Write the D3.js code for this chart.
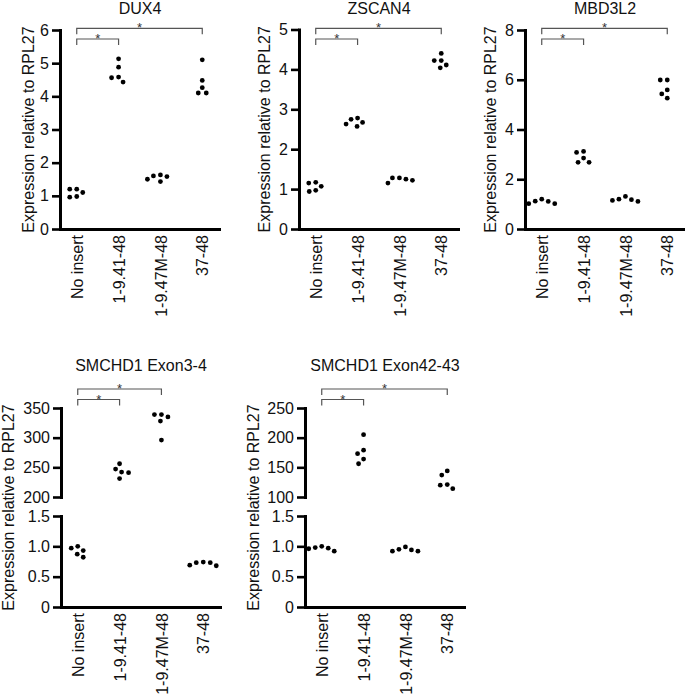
<!DOCTYPE html>
<html>
<head>
<meta charset="utf-8">
<script src="https://cdn.jsdelivr.net/npm/d3@7"></script>
<style>
  html, body { margin: 0; padding: 0; background: #fff; }
  svg { display: block; font-family: "Liberation Sans", Arial, sans-serif; }
</style>
</head>
<body>
<svg id="chart" width="685" height="697"></svg>
<script>
// ---------------- DATA ----------------
const categories = ["No insert", "1-9.41-48", "1-9.47M-48", "37-48"];

const dux4Values = [
  [1.2, 1.2, 1.1, 0.98, 0.96],
  [5.13, 4.88, 4.58, 4.56, 4.43],
  [1.63, 1.6, 1.58, 1.5, 1.43],
  [5.1, 4.48, 4.26, 4.1, 4.1]
];
const zscan4Values = [
  [1.17, 1.15, 1.07, 0.97, 0.94],
  [2.78, 2.75, 2.67, 2.63, 2.57],
  [1.28, 1.28, 1.25, 1.22, 1.15],
  [4.4, 4.22, 4.22, 4.11, 4.04]
];
const mbd3l2Values = [
  [1.2, 1.12, 1.11, 1.02, 1.02],
  [3.12, 3.08, 2.85, 2.68, 2.68],
  [1.31, 1.2, 1.18, 1.15, 1.11],
  [5.99, 5.99, 5.59, 5.43, 5.26]
];
const smchd1Ex34Values = [
  [1.0, 0.97, 0.93, 0.87, 0.82],
  [256, 247, 242, 241, 231],
  [339, 339, 335, 328, 296],
  [0.74, 0.73, 0.73, 0.69, 0.68]
];
const smchd1Ex4243Values = [
  [1.0, 0.98, 0.97, 0.96, 0.92],
  [205, 179, 173, 164, 156],
  [0.99, 0.95, 0.94, 0.92, 0.92],
  [144, 137, 121, 120, 114]
];

const dux4Ticks = [0, 1, 2, 3, 4, 5, 6];
const zscan4Ticks = [0, 1, 2, 3, 4, 5];
const mbd3l2Ticks = [0, 2, 4, 6, 8];
const lowerBreakTicks = [0, 0.5, 1.0, 1.5];
const lowerBreakTickLabels = ["0", "0.5", "1.0", "1.5"];
const ex34UpperTicks = [200, 250, 300, 350];
const ex4243UpperTicks = [100, 150, 200, 250];

const titles = ["DUX4", "ZSCAN4", "MBD3L2", "SMCHD1 Exon3-4", "SMCHD1 Exon42-43"];
const yAxisTitle = "Expression relative to RPL27";
const starLabel = "*";
// comparisons (index pairs into categories)
const compTop = [[0, 3], [0, 1]];
const compEx34 = [[0, 2], [0, 1]];
const compEx4243 = [[0, 3], [0, 1]];

// ---------------- DRAWING ----------------
const svg = d3.select("#chart");
const FONT = 16;
const AXW = 3;
const R = 2.4;

function swarm(vals, yfn, cx) {
  const placed = [];
  const order = vals.map((v, i) => ({ v, y: yfn(v) })).sort((a, b) => a.y - b.y);
  const minD = 2 * R + 1.8;
  order.forEach(p => {
    let off = 0;
    for (let k = 0; k < 200; k++) {
      const cand = (k % 2 === 0 ? 1 : -1) * Math.ceil(k / 2) * 0.5;
      const ok = placed.every(q => Math.hypot(q.x - (cx + cand), q.y - p.y) >= minD);
      if (ok) { off = cand; break; }
    }
    placed.push({ x: cx + off, y: p.y });
  });
  return placed;
}

function drawPanel(cfg) {
  const g = svg.append("g");
  const x = d3.scalePoint().domain(categories).range([cfg.x0, cfg.x0 + 159]).padding(0.4);
  const segs = cfg.segments;
  const scales = segs.map(s => d3.scaleLinear().domain(s.domain).range(s.range));
  const yOf = v => {
    for (let i = segs.length - 1; i >= 0; i--) {
      if (v >= segs[i].domain[0] || i === 0) return scales[i](v);
    }
  };
  const xAxisY = segs[0].range[0];

  segs.forEach((s, i) => {
    const ax = d3.axisLeft(scales[i]).tickValues(s.ticks).tickSize(8).tickSizeOuter(0).tickPadding(3)
      .tickFormat((d, j) => s.labels ? s.labels[j] : d3.format("")(d));
    const a = g.append("g").attr("transform", `translate(${cfg.x0},0)`).call(ax);
    a.select(".domain").attr("stroke", "#000").attr("stroke-width", AXW).attr("stroke-linecap", "square");
    a.selectAll(".tick line").attr("stroke", "#000").attr("stroke-width", 2.6);
    a.selectAll(".tick text").attr("font-size", FONT).attr("fill", "#111")
      .attr("font-family", '"Liberation Sans", Arial, sans-serif');
  });

  const xa = g.append("g").attr("transform", `translate(0,${xAxisY})`)
    .call(d3.axisBottom(x).tickSize(0).tickSizeOuter(0));
  xa.select(".domain").attr("stroke", "#000").attr("stroke-width", AXW).attr("stroke-linecap", "square");
  xa.selectAll(".tick text")
    .attr("font-size", FONT).attr("fill", "#111")
    .attr("font-family", '"Liberation Sans", Arial, sans-serif')
    .attr("transform", "rotate(-90)")
    .attr("text-anchor", "end")
    .attr("x", -6).attr("y", 0).attr("dy", "0.35em");

  g.append("text").attr("x", cfg.x0 + 80).attr("y", cfg.titleY).attr("text-anchor", "middle")
    .attr("font-size", FONT).attr("fill", "#111").text(cfg.title);

  const yTop = segs[segs.length - 1].range[1];
  const yMid = (yTop + xAxisY) / 2;
  g.append("text").attr("transform", `translate(${cfg.labelX},${yMid}) rotate(-90)`)
    .attr("text-anchor", "middle").attr("font-size", FONT).attr("fill", "#111").text(yAxisTitle);

  cfg.values.forEach((vals, ci) => {
    const pts = swarm(vals, yOf, x(categories[ci]));
    g.selectAll(null).data(pts).enter().append("circle")
      .attr("cx", d => d.x).attr("cy", d => d.y).attr("r", R).attr("fill", "#000");
  });

  cfg.comps.forEach((c, k) => {
    const by = cfg.bracketY[k];
    const x1 = x(categories[c[0]]), x2 = x(categories[c[1]]);
    g.append("path")
      .attr("d", `M${x1},${by + 6}V${by}H${x2}V${by + 6}`)
      .attr("fill", "none").attr("stroke", "#555").attr("stroke-width", 1.2);
    g.append("text").attr("x", (x1 + x2) / 2).attr("y", by + 4)
      .attr("text-anchor", "middle").attr("font-size", 13).attr("fill", "#333").text(starLabel);
  });
}

drawPanel({
  title: titles[0], x0: 60, titleY: 14, labelX: 33.5, values: dux4Values, comps: compTop,
  bracketY: [28.3, 39],
  segments: [{ domain: [0, 6], range: [229, 30], ticks: dux4Ticks }]
});
drawPanel({
  title: titles[1], x0: 299, titleY: 14, labelX: 269.5, values: zscan4Values, comps: compTop,
  bracketY: [28.3, 39],
  segments: [{ domain: [0, 5], range: [229, 29.5], ticks: zscan4Ticks }]
});
drawPanel({
  title: titles[2], x0: 525, titleY: 14, labelX: 496, values: mbd3l2Values, comps: compTop,
  bracketY: [28.3, 39],
  segments: [{ domain: [0, 8], range: [229, 30], ticks: mbd3l2Ticks }]
});
drawPanel({
  title: titles[3], x0: 61, titleY: 371, labelX: 13.5, values: smchd1Ex34Values, comps: compEx34,
  bracketY: [389, 399.5],
  segments: [
    { domain: [0, 1.5], range: [607, 516], ticks: lowerBreakTicks, labels: lowerBreakTickLabels },
    { domain: [200, 350], range: [497, 408], ticks: ex34UpperTicks }
  ]
});
drawPanel({
  title: titles[4], x0: 305, titleY: 371, labelX: 259, values: smchd1Ex4243Values, comps: compEx4243,
  bracketY: [389, 399.5],
  segments: [
    { domain: [0, 1.5], range: [607, 516], ticks: lowerBreakTicks, labels: lowerBreakTickLabels },
    { domain: [100, 250], range: [497, 408], ticks: ex4243UpperTicks }
  ]
});
</script>
</body>
</html>
